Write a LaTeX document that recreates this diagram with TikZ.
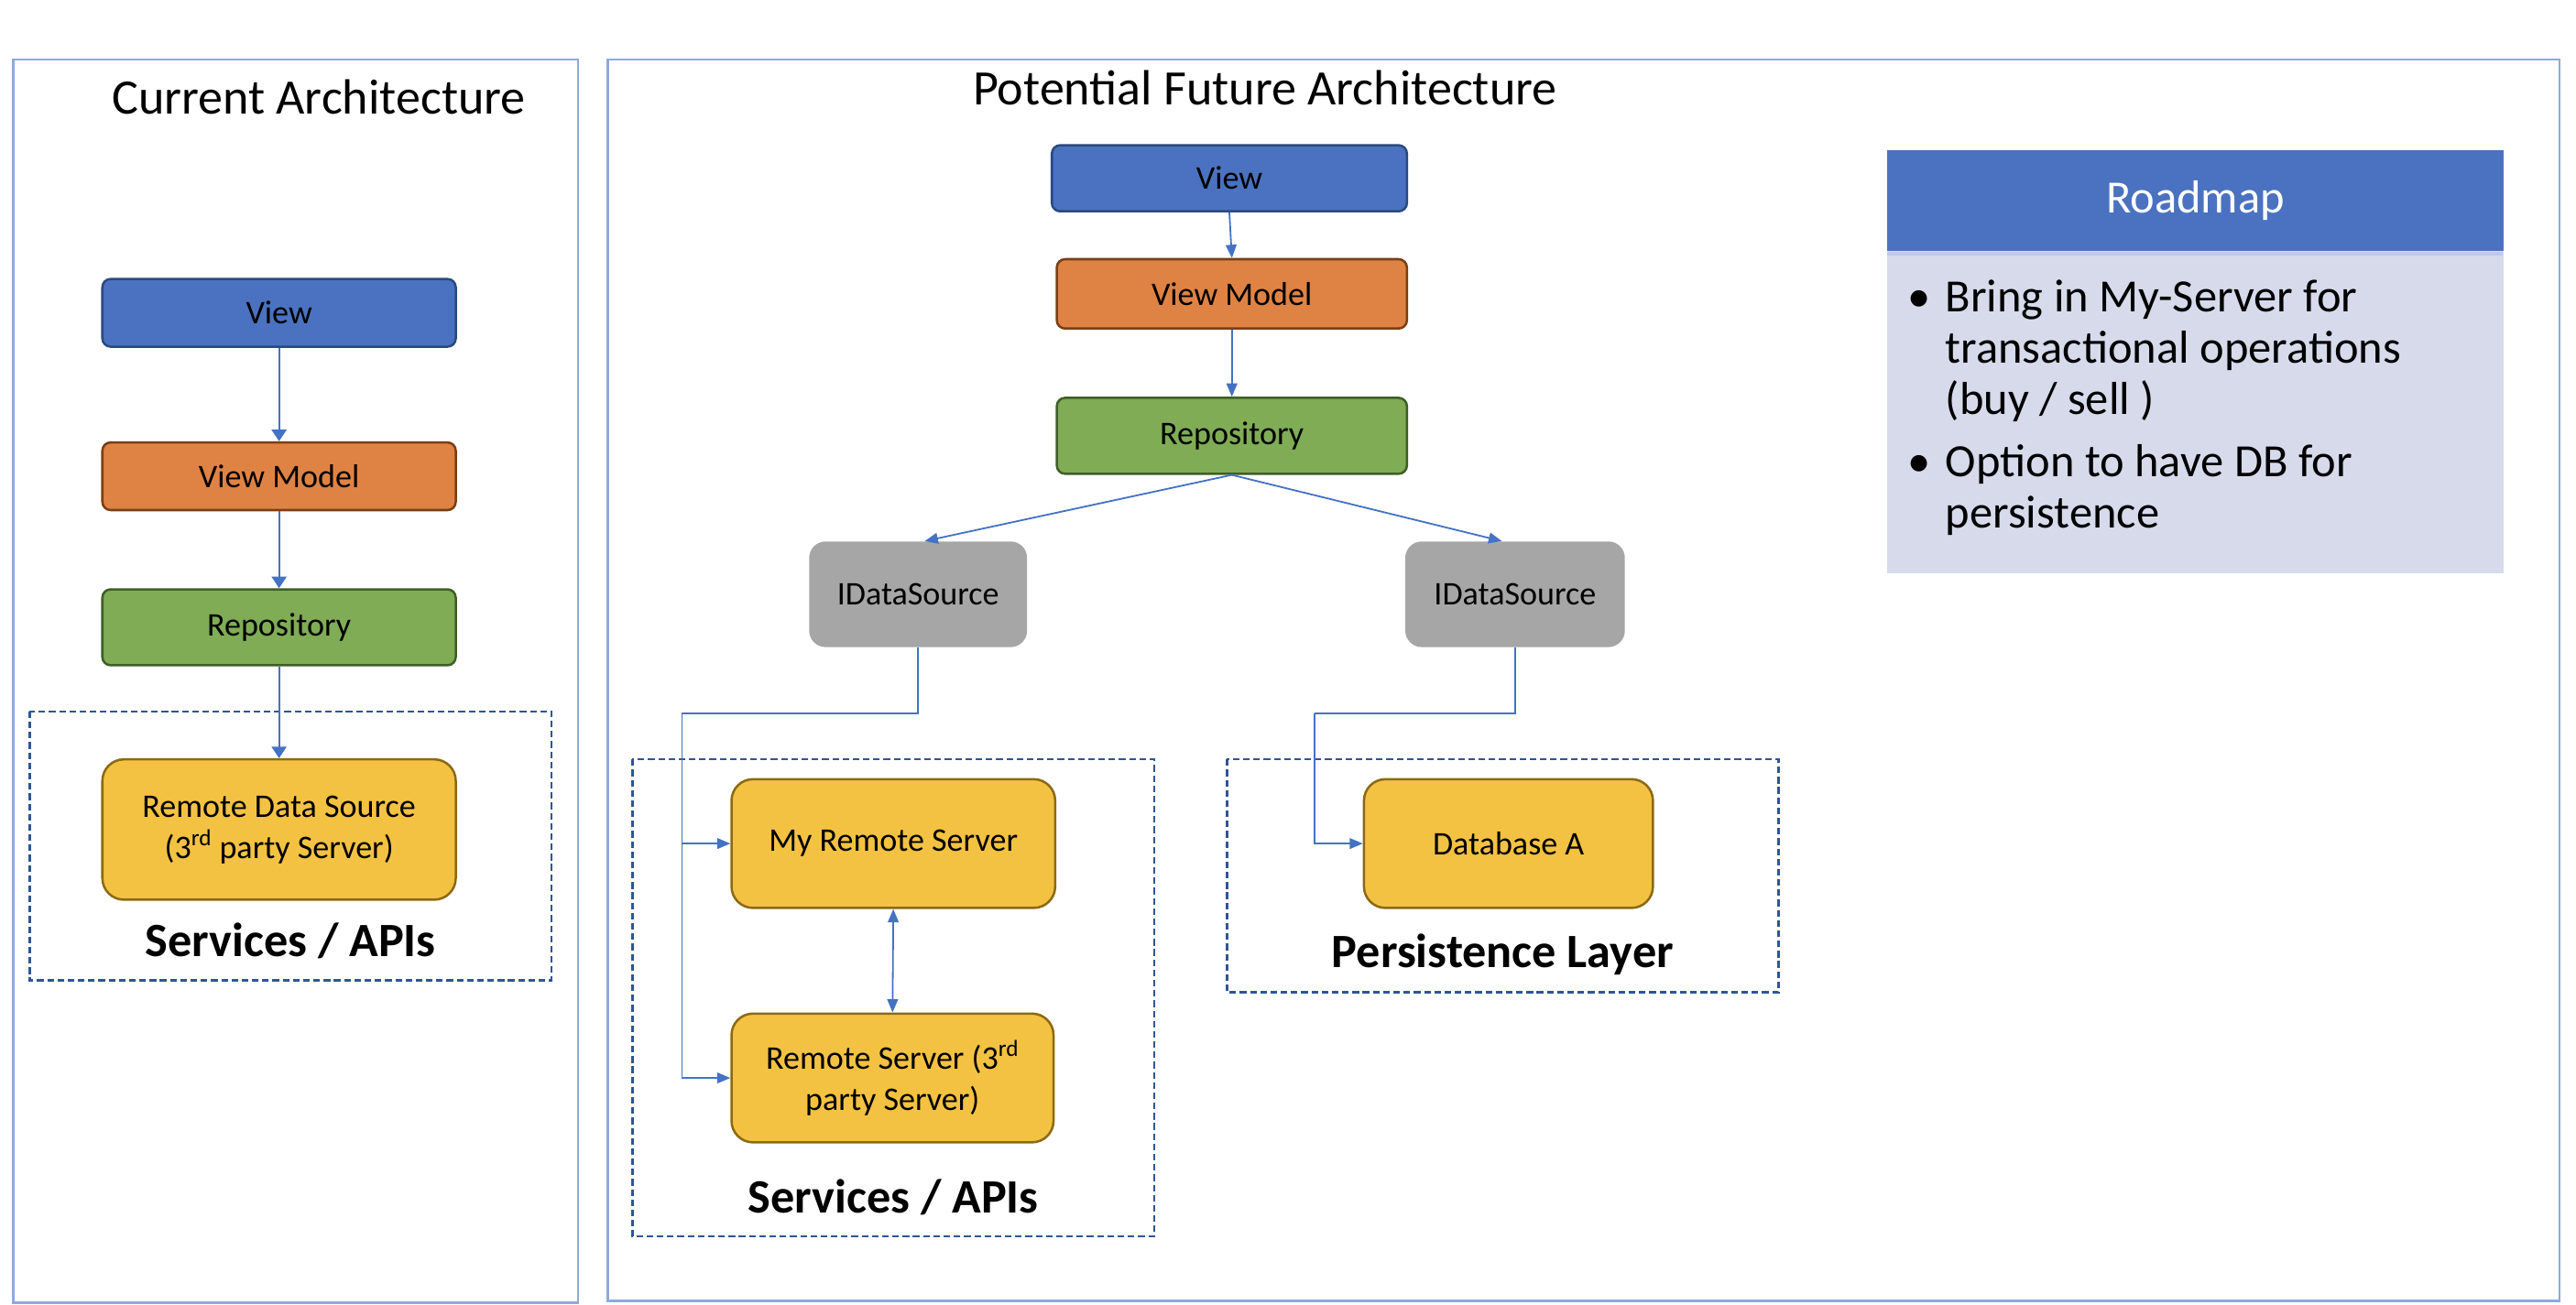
\documentclass[tikz,border=0pt]{standalone}
\usepackage{fontspec}
\setmainfont{Carlito}
\usetikzlibrary{arrows.meta}
\definecolor{vblue}{HTML}{4A72C0}
\definecolor{vblueb}{HTML}{2A4A80}
\definecolor{vorange}{HTML}{DF8344}
\definecolor{vorangeb}{HTML}{7A3F13}
\definecolor{vgreen}{HTML}{7FAC55}
\definecolor{vgreenb}{HTML}{3F5F26}
\definecolor{vgray}{HTML}{A6A6A6}
\definecolor{vyellow}{HTML}{F4C242}
\definecolor{vyellowb}{HTML}{8C6A14}
\definecolor{vframe}{HTML}{90A9DA}
\definecolor{vdash}{HTML}{2F5597}
\definecolor{vline}{HTML}{4472C4}
\definecolor{vbody}{HTML}{D6DAEB}
\definecolor{vdiv}{HTML}{C3C9E0}
\begin{document}
\begin{tikzpicture}[x=1pt,y=-1pt,
  lbl/.style={font=\fontsize{20}{25}\selectfont, align=center, inner sep=0pt},
  viewbox/.style={lbl, draw=vblueb, fill=vblue, line width=1.4pt, rounded corners=5pt},
  vmbox/.style={lbl, draw=vorangeb, fill=vorange, line width=1.4pt, rounded corners=5pt},
  repobox/.style={lbl, draw=vgreenb, fill=vgreen, line width=1.4pt, rounded corners=5pt},
  dsbox/.style={lbl, fill=vgray, rounded corners=10pt},
  srvbox/.style={lbl, draw=vyellowb, fill=vyellow, line width=1.4pt, rounded corners=13pt},
  frame/.style={draw=vframe, line width=1.4pt},
  dashframe/.style={draw=vdash, line width=1.4pt, dash pattern=on 4pt off 2.2pt},
  title/.style={font=\fontsize{30}{36}\selectfont, inner sep=0pt},
  grouplbl/.style={font=\bfseries\fontsize{29}{34}\selectfont, inner sep=0pt},
  conn/.style={draw=vline, line width=1pt},
  larrow/.style={conn, -{Triangle[width=9pt,length=7pt]}},
  rarrow/.style={conn, -{Triangle[width=6.5pt,length=8pt]}},
  rmtext/.style={font=\fontsize{28}{31}\selectfont, inner sep=0pt, align=left}
]
\useasboundingbox (0,0) rectangle (1560,790);

% outer frames
\draw[frame] (8,36) rectangle (350,789);
\draw[frame] (368,36) rectangle (1550,788);

% titles
\node[title] (tcur) at (193,59) {Current Architecture};
\node[title] (tfut) at (766,53) {Potential Future Architecture};

% ---------- current architecture ----------
\draw[dashframe] (18,431) rectangle (334,594);
\node[viewbox, minimum width=214pt, minimum height=41pt] (lview) at (169,189.5) {View};
\node[vmbox, minimum width=214pt, minimum height=41pt] (lvm) at (169,288.5) {View Model};
\node[repobox, minimum width=214pt, minimum height=46pt] (lrepo) at (169,380) {Repository};
\node[srvbox, minimum width=214pt, minimum height=85pt] (lrds) at (169,502.5) {Remote Data Source\\(3\textsuperscript{rd} party Server)};
\node[grouplbl] (lsvc) at (176,570) {Services / APIs};

\draw[larrow] (lview) -- (lvm);
\draw[larrow] (lvm) -- (lrepo);
\draw[larrow] (lrepo) -- (lrds);

% ---------- future architecture ----------
\draw[dashframe] (383,460) rectangle (699,749);
\draw[dashframe] (743,460) rectangle (1077,601);

\node[viewbox, minimum width=215pt, minimum height=40pt] (rview) at (744.5,108) {View};
\node[vmbox, minimum width=212pt, minimum height=42pt] (rvm) at (746,178) {View Model};
\node[repobox, minimum width=212pt, minimum height=46pt] (rrepo) at (746,264) {Repository};
\node[dsbox, minimum width=132pt, minimum height=64pt] (lds) at (556,360) {IDataSource};
\node[dsbox, minimum width=133pt, minimum height=64pt] (rds) at (917.5,360) {IDataSource};
\node[srvbox, minimum width=196pt, minimum height=78pt] (mrs) at (541,511) {My Remote Server};
\node[srvbox, minimum width=195pt, minimum height=78pt] (rs3) at (540.5,653) {Remote Server (3\textsuperscript{rd}\\party Server)};
\node[srvbox, minimum width=175pt, minimum height=78pt] (dba) at (913.5,511) {Database A};
\node[grouplbl] (rsvc) at (541,725) {Services / APIs};
\node[grouplbl] (pers) at (910,578) {Persistence Layer};

\draw[rarrow] (rview.south) -- (rvm.north);
\draw[rarrow] (rvm) -- (rrepo);
\draw[rarrow] (rrepo.south) -- ([xshift=4pt]lds.north);
\draw[rarrow] (rrepo.south) -- ([xshift=-8pt]rds.north);

\coordinate (ljoin) at (413,432);
\coordinate (rjoin) at (796,432);
\draw[conn] (lds.south) |- (ljoin);
\draw[rarrow] (ljoin) |- (mrs.west);
\draw[rarrow] (ljoin) |- (rs3.west);
\draw[conn] (rds.south) |- (rjoin);
\draw[rarrow] (rjoin) |- (dba.west);
\draw[conn, {Triangle[width=6.5pt,length=8pt]}-{Triangle[width=6.5pt,length=8pt]}] (mrs.south) -- (rs3.north);

% ---------- roadmap ----------
\node[fill=vbody, minimum width=373pt, minimum height=195pt, inner sep=0pt] (rmbody) at (1329.5,249.5) {};
\node[fill=vblue, minimum width=373pt, minimum height=61pt, inner sep=0pt, font=\fontsize{28}{34}\selectfont, text=white] (rmhead) at (1329.5,121.5) {Roadmap};
\draw[vdiv, line width=2pt] (rmbody.north west) ++(0,2) -- ++(373,0);

\node[rmtext, anchor=base] (b1) at (1162,189) {\textbullet};
\node[rmtext, anchor=base west] (i1) at (1178,251) {Bring in My-Server for\\transactional operations\\(buy / sell )};
\node[rmtext, anchor=base] (b2) at (1162,289) {\textbullet};
\node[rmtext, anchor=base west] (i2) at (1178,320) {Option to have DB for\\persistence};
\end{tikzpicture}
\end{document}
